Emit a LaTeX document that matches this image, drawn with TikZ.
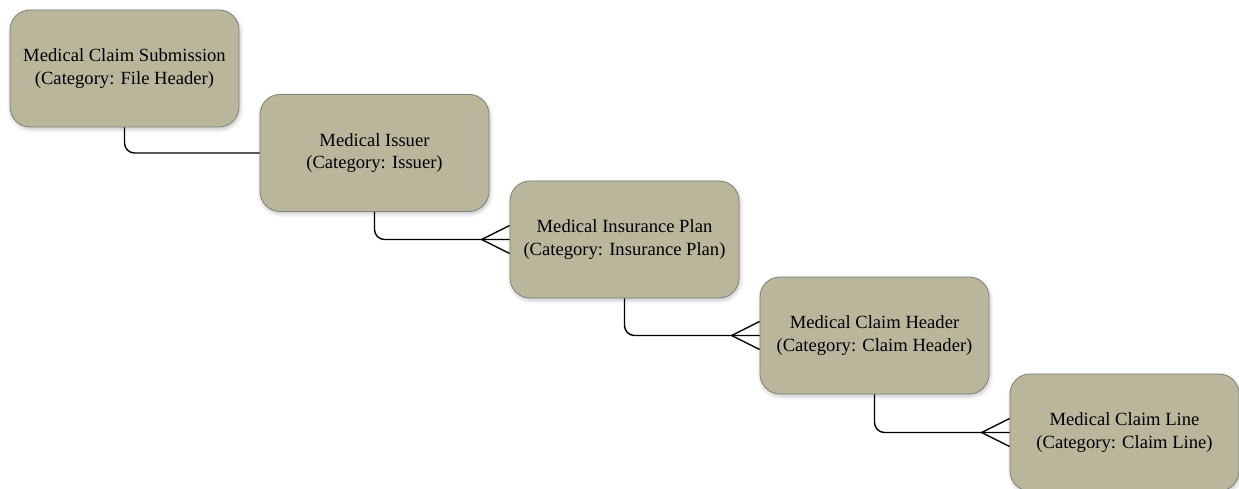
\documentclass[tikz,border=0pt]{standalone}
\usepackage{fontspec}
\setmainfont{Liberation Serif}
\usetikzlibrary{shadows.blur}
\definecolor{entityfill}{RGB}{185,182,155}
\definecolor{entityedge}{RGB}{128,128,120}
\tikzset{
  entity/.style={draw=entityedge, line width=0.8pt, fill=entityfill,
    rounded corners=20pt, minimum width=229pt, minimum height=117pt,
    align=center, font=\fontsize{18.6}{22.5}\selectfont, inner sep=0pt,
    blur shadow={shadow xshift=1pt, shadow yshift=-2pt, shadow blur radius=4pt,
      shadow blur steps=6, shadow opacity=25}},
  link/.style={line width=1.4pt, rounded corners=10pt},
  fork/.style={line width=1.4pt}
}
\begin{document}
\begin{tikzpicture}[x=1pt,y=-1pt]
  \useasboundingbox (0,0) rectangle (1239,489);
  \node[entity] (sub) at (124.5,68.5) {Medical Claim Submission\\(Category: File Header)};
  \node[entity] (iss) at (374.5,153) {Medical Issuer\\(Category: Issuer)};
  \node[entity] (plan) at (624.5,239.5) {Medical Insurance Plan\\(Category: Insurance Plan)};
  \node[entity] (hdr) at (874.5,335.5) {Medical Claim Header\\(Category: Claim Header)};
  \node[entity] (line) at (1124.5,432.5) {Medical Claim Line\\(Category: Claim Line)};

  % one-to-one link
  \draw[link] (sub.south) |- (iss.west);
  % one-to-many links with crow's feet at the child end
  \foreach \a/\b in {iss/plan, plan/hdr, hdr/line}{
    \draw[link] (\a.south) |- (\b.west);
    \draw[fork] ([xshift=-28pt]\b.west) -- ([yshift=-14pt]\b.west)
                ([xshift=-28pt]\b.west) -- ([yshift=14pt]\b.west);
  }
\end{tikzpicture}
\end{document}
